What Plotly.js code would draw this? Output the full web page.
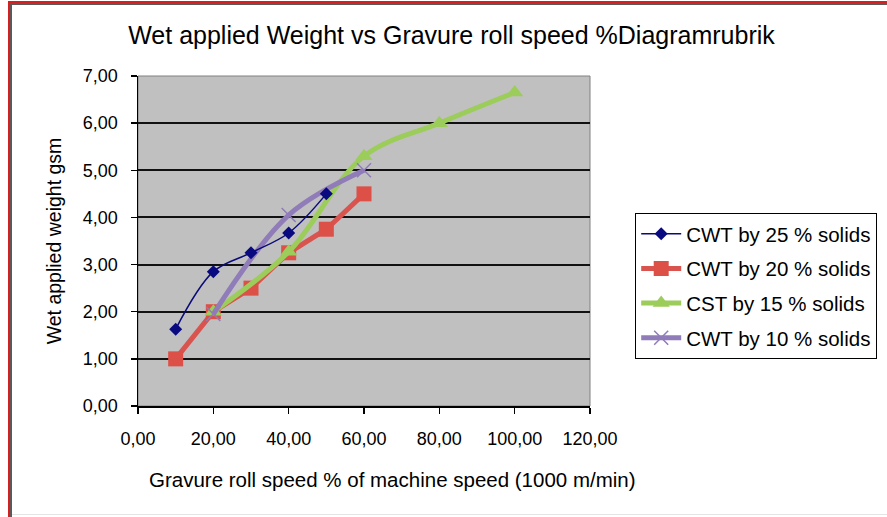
<!DOCTYPE html>
<html>
<head>
<meta charset="utf-8">
<script src="https://cdn.plot.ly/plotly-3.0.1.min.js"></script>
<style>
  html, body { margin: 0; padding: 0; background: #ffffff; }
  #wrap { position: relative; width: 887px; height: 517px; overflow: hidden; }
  #chart { position: absolute; left: 0; top: 0; width: 887px; height: 517px; }
  .edge { position: absolute; }
</style>
</head>
<body>
<div id="wrap">
  <div id="chart"></div>
  <!-- frame lines along the top and left edges of the sheet -->
  <div class="edge" style="left:8px; top:1px; width:879px; height:2px; background:#d62020;"></div>
  <div class="edge" style="left:10px; top:3px; width:877px; height:2px; background:#5a5a5a;"></div>
  <div class="edge" style="left:8px; top:1px; width:2px; height:516px; background:#d62020;"></div>
  <div class="edge" style="left:10px; top:3px; width:2px; height:514px; background:#5a5a5a;"></div>
  <div class="edge" style="left:12px; top:514px; width:875px; height:1px; background:#e4e4e4;"></div>
</div>
<script>
// Gravure roll speed (% of machine speed) and wet applied weight (gsm)
const seriesNames = [
  'CWT by 25 % solids',
  'CWT by 20 % solids',
  'CST by 15 % solids',
  'CWT by 10 % solids'
];

const speedCwt25 = [10, 20, 30, 40, 50];
const weightCwt25 = [1.63, 2.85, 3.25, 3.67, 4.50];

const speedCwt20 = [10, 20, 30, 40, 50, 60];
const weightCwt20 = [1.00, 2.00, 2.50, 3.25, 3.75, 4.50];

const speedCst15 = [20, 40, 60, 80, 100];
const weightCst15 = [2.00, 3.27, 5.30, 6.00, 6.65];

const speedCwt10 = [20, 40, 60];
const weightCwt10 = [1.95, 4.05, 5.00];

const xTicks = [0, 20, 40, 60, 80, 100, 120];
const yTicks = [0, 1, 2, 3, 4, 5, 6, 7];

const xTitle = 'Gravure roll speed % of machine speed (1000 m/min)';
const yTitle = 'Wet applied weight gsm';
const chartTitle = 'Wet applied Weight vs Gravure roll speed %Diagramrubrik';

const FONT = 'Liberation Sans, Arial, sans-serif';

const traces = [
  {
    name: seriesNames[1], x: speedCwt20, y: weightCwt20, legendrank: 2, legendgroup: 'g2',
    mode: 'lines+markers', type: 'scatter',
    line: {color: '#d9534f', width: 5},
    marker: {symbol: 'square', size: 15, color: '#dc5048'}
  },
  {
    name: seriesNames[2], x: speedCst15, y: weightCst15, legendrank: 3, legendgroup: 'g3',
    mode: 'lines+markers', type: 'scatter',
    line: {color: '#9ccc5a', width: 5, shape: 'spline', smoothing: 1},
    marker: {symbol: 'triangle-up', size: 15, color: '#9ccc5a'}
  },
  {
    name: seriesNames[3], x: speedCwt10, y: weightCwt10, legendrank: 4, legendgroup: 'g4',
    mode: 'lines+markers', type: 'scatter',
    line: {color: '#8f7cb8', width: 5, shape: 'spline', smoothing: 1},
    marker: {symbol: 'x-thin', size: 14, color: '#8f7cb8', line: {color: '#8f7cb8', width: 1.5}}
  },
  {
    name: seriesNames[0], x: speedCwt25, y: weightCwt25, legendrank: 1, legendgroup: 'g1',
    mode: 'lines+markers', type: 'scatter',
    line: {color: '#0a0a78', width: 1.5, shape: 'spline', smoothing: 1},
    marker: {symbol: 'diamond', size: 10, color: '#0a0a80'}
  }
];

const layout = {
  width: 887, height: 517,
  margin: {l: 138, r: 297, t: 76, b: 111, pad: 0, autoexpand: false},
  paper_bgcolor: '#ffffff',
  plot_bgcolor: '#c0c0c0',
  separators: ',.',
  font: {family: FONT, color: '#000000', size: 18},
  title: {
    text: chartTitle,
    font: {family: FONT, size: 25, color: '#000000'},
    x: 0.509, xanchor: 'center', y: 0.932, yanchor: 'middle'
  },
  xaxis: {
    range: [0, 120], tickvals: xTicks, tickformat: '.2f',
    showgrid: false, zeroline: false,
    showline: true, linecolor: '#000000', linewidth: 1.5,
    ticks: 'outside', ticklen: 6, tickcolor: '#000000', tickwidth: 1.5,
    ticklabelstandoff: 10,
    tickfont: {family: FONT, size: 18, color: '#000000'}
  },
  yaxis: {
    range: [0, 7], tickvals: yTicks, tickformat: '.2f',
    showgrid: true, gridcolor: '#111111', gridwidth: 2,
    zeroline: false,
    showline: true, linecolor: '#000000', linewidth: 1.5,
    ticks: 'outside', ticklen: 6, tickcolor: '#000000', tickwidth: 1.5,
    ticklabelstandoff: 9,
    tickfont: {family: FONT, size: 18, color: '#000000'},
    title: {text: yTitle,
            font: {family: FONT, size: 19.5, color: '#000000'}, standoff: 16}
  },
  annotations: [{
    text: xTitle, xref: 'paper', yref: 'paper',
    x: 0.562, y: -0.224, xanchor: 'center', yanchor: 'middle',
    showarrow: false, font: {family: FONT, size: 20.5, color: '#000000'}
  }],
  legend: {
    x: 1.1, xanchor: 'left', y: 0.585, yanchor: 'top',
    bgcolor: '#ffffff', bordercolor: '#000000', borderwidth: 1,
    font: {family: FONT, size: 20.5, color: '#000000'},
    itemwidth: 40,
    traceorder: 'grouped', tracegroupgap: 5
  },
  shapes: [{
    type: 'rect', xref: 'paper', yref: 'paper', x0: 0, x1: 1, y0: 0, y1: 1,
    line: {color: '#808080', width: 1}, layer: 'below'
  }],
  showlegend: true
};

Plotly.newPlot('chart', traces, layout, {staticPlot: true, displayModeBar: false});
</script>
</body>
</html>
